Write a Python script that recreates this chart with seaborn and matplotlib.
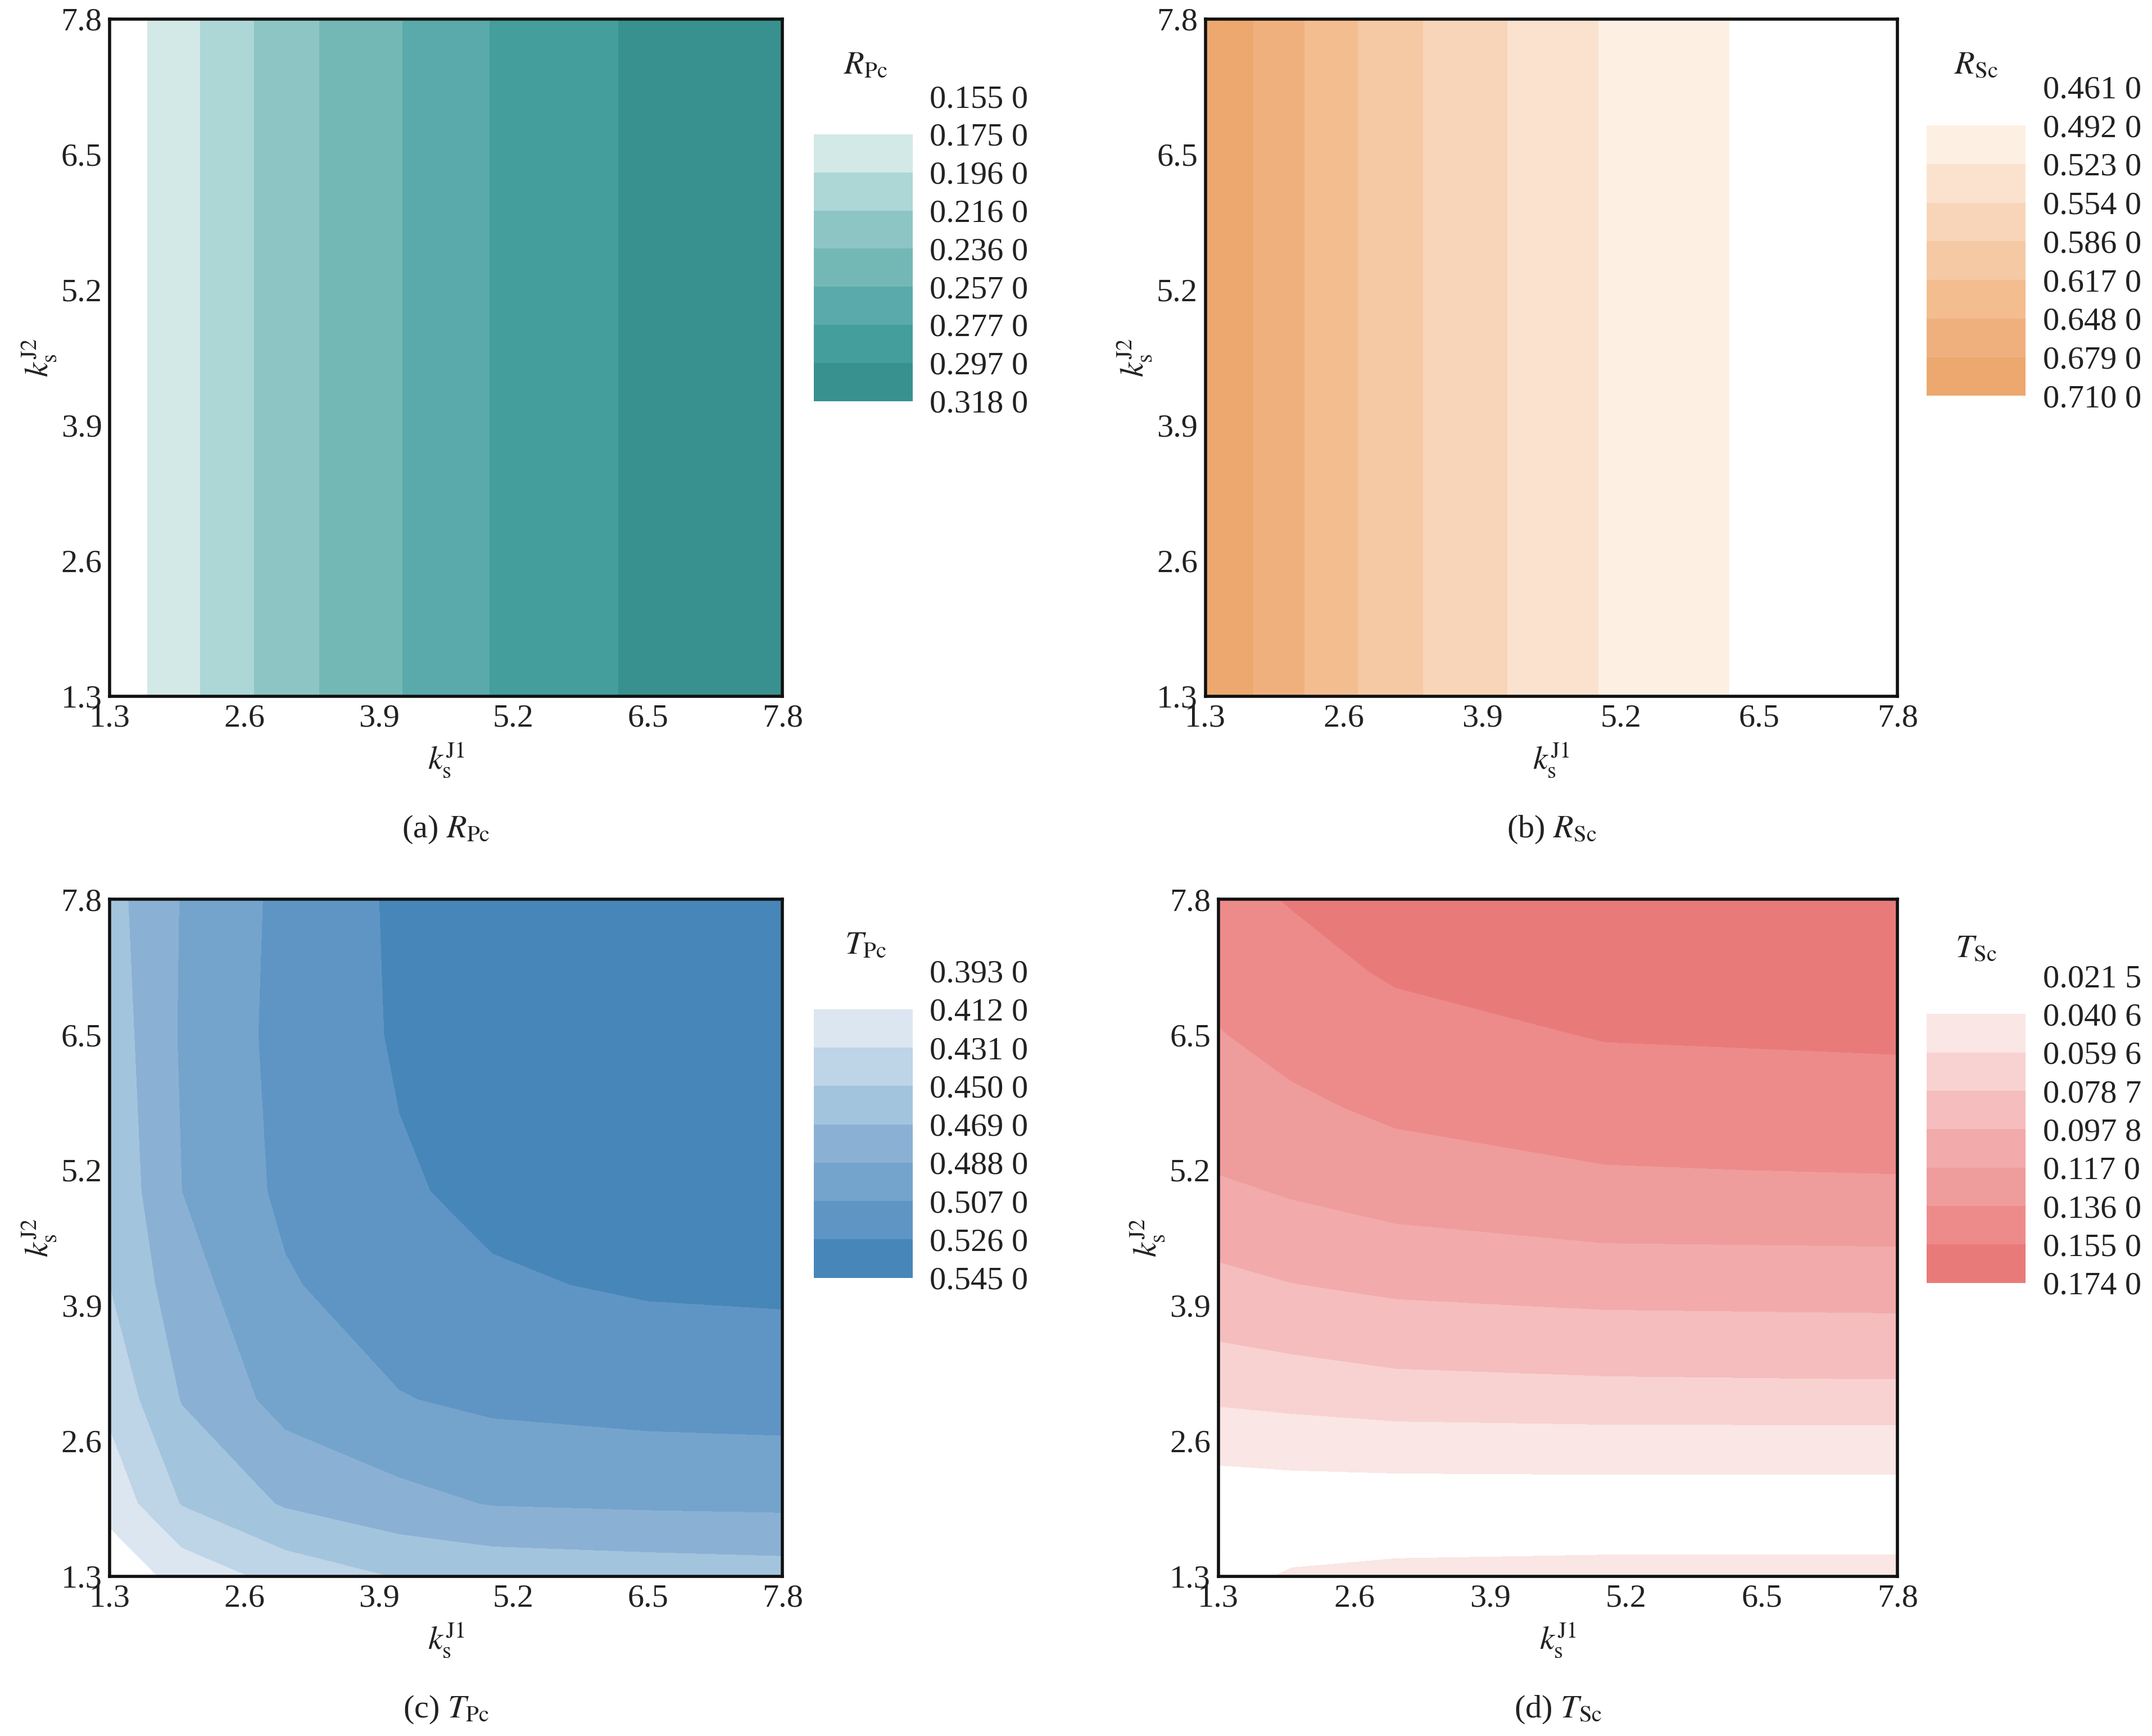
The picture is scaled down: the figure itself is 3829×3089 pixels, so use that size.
import numpy as np
import matplotlib
matplotlib.use("Agg")
import matplotlib.pyplot as plt
import seaborn as sns

sns.set_theme(style="white")
plt.rcParams['font.family'] = ['Liberation Serif', 'DejaVu Serif']
plt.rcParams['mathtext.fontset'] = 'stix'

ticks = [1.3, 2.6, 3.9, 5.2, 6.5, 7.8]

# (a) R_Pc depends on k_s^J1 only
a_x = [1.3, 1.95, 2.6, 3.25, 3.9, 4.55, 5.2, 5.85, 6.5, 7.15, 7.8]
a_v = [0.160, 0.187, 0.213, 0.234, 0.251, 0.268, 0.282, 0.292, 0.301, 0.310, 0.3175]
a_levels = [0.155, 0.175, 0.196, 0.216, 0.236, 0.257, 0.277, 0.297, 0.318]
a_colors = ['#ffffff', '#d3e9e7', '#add6d6', '#8dc5c5', '#74b8b5', '#5aaaab', '#449e9b', '#38918e']

# (b) R_Sc
b_x = a_x
b_v = [0.708, 0.666, 0.624, 0.590, 0.563, 0.538, 0.516, 0.500, 0.486, 0.474, 0.462]
b_levels = [0.461, 0.492, 0.523, 0.554, 0.586, 0.617, 0.648, 0.679, 0.710]
b_colors = ['#ffffff', '#fdf0e3', '#fbe2cf', '#f8d5b9', '#f5c9a4', '#f3bd90', '#f0b07e', '#eca86e']

# (c) T_Pc on grid
c_x = [1.3, 2.0, 3.0, 4.1, 5.0, 6.5, 7.8]
c_y = [1.3, 2.0, 3.0, 4.1, 5.0, 6.5, 7.8]
c_v = [
    [0.400, 0.418, 0.438, 0.451, 0.455, 0.458, 0.460],
    [0.418, 0.451, 0.471, 0.482, 0.489, 0.491, 0.492],
    [0.436, 0.470, 0.495, 0.506, 0.511, 0.514, 0.515],
    [0.450, 0.480, 0.505, 0.518, 0.524, 0.528, 0.529],
    [0.454, 0.488, 0.511, 0.524, 0.530, 0.535, 0.535],
    [0.458, 0.490, 0.513, 0.528, 0.534, 0.538, 0.540],
    [0.462, 0.489, 0.512, 0.529, 0.535, 0.540, 0.544],
]
c_levels = [0.393, 0.412, 0.431, 0.450, 0.469, 0.488, 0.507, 0.526, 0.545]
c_colors = ['#ffffff', '#dbe6f1', '#bed4e7', '#a3c4dd', '#8ab1d4', '#74a4cc', '#5f95c4', '#4786b9']

# (d) T_Sc on grid (rows = k_s^J2, cols = k_s^J1)
d_x = [1.3, 2.0, 3.0, 5.0, 7.8]
d_y = [1.3, 2.0, 2.6, 3.2, 3.9, 4.5, 5.2, 5.8, 6.5, 7.1, 7.8]
d_col13 = [0.036, 0.029, 0.048, 0.069, 0.088, 0.102, 0.118, 0.127, 0.135, 0.142, 0.150]
d_col20 = [0.042, 0.030, 0.050, 0.072, 0.092, 0.108, 0.123, 0.132, 0.143, 0.149, 0.156]
d_col30 = [0.044, 0.030, 0.052, 0.076, 0.096, 0.113, 0.128, 0.140, 0.149, 0.157, 0.163]
d_col50 = [0.045, 0.030, 0.053, 0.078, 0.099, 0.117, 0.135, 0.146, 0.156, 0.164, 0.171]
d_col78 = [0.045, 0.030, 0.053, 0.079, 0.100, 0.118, 0.137, 0.147, 0.158, 0.165, 0.172]
d_levels = [0.0215, 0.0406, 0.0596, 0.0787, 0.0978, 0.117, 0.136, 0.155, 0.174]
d_labels = ['0.021 5', '0.040 6', '0.059 6', '0.078 7', '0.097 8', '0.117 0', '0.136 0', '0.155 0', '0.174 0']
d_colors = ['#ffffff', '#fae6e4', '#f8d2d1', '#f5bdbd', '#f2aaab', '#ef9c9c', '#ed8b8b', '#e87b7a']


def fmt4(v):
    s = f"{v:.4f}"
    return s[:-1] + " " + s[-1]


W, H = 38.30, 30.89
fig = plt.figure(figsize=(W, H), dpi=100)
FS = 42

panels = [
    dict(rect=[0.051, 0.599, 0.3125, 0.390], cb=[0.378, 0.769, 0.046, 0.1756], tt=(0.402, 0.962),
         name=r'$R_{\mathrm{Pc}}$', cap=r'(a) $R_{\mathrm{Pc}}$'),
    dict(rect=[0.560, 0.599, 0.3215, 0.390], cb=[0.895, 0.772, 0.046, 0.178], tt=(0.918, 0.962),
         name=r'$R_{\mathrm{Sc}}$', cap=r'(b) $R_{\mathrm{Sc}}$'),
    dict(rect=[0.051, 0.092, 0.3125, 0.390], cb=[0.378, 0.264, 0.046, 0.1767], tt=(0.402, 0.455),
         name=r'$T_{\mathrm{Pc}}$', cap=r'(c) $T_{\mathrm{Pc}}$'),
    dict(rect=[0.566, 0.092, 0.3155, 0.390], cb=[0.895, 0.261, 0.046, 0.177], tt=(0.918, 0.453),
         name=r'$T_{\mathrm{Sc}}$', cap=r'(d) $T_{\mathrm{Sc}}$'),
]

data = []
data.append((np.array(a_x), np.array([1.3, 7.8]), np.vstack([a_v, a_v]), a_levels, a_colors,
             [fmt4(v) for v in a_levels]))
data.append((np.array(b_x), np.array([1.3, 7.8]), np.vstack([b_v, b_v]), b_levels, b_colors,
             [fmt4(v) for v in b_levels]))
data.append((np.array(c_x), np.array(c_y), np.array(c_v), c_levels, c_colors,
             [fmt4(v) for v in c_levels]))
data.append((np.array(d_x), np.array(d_y),
             np.column_stack([d_col13, d_col20, d_col30, d_col50, d_col78]), d_levels, d_colors, d_labels))

for p, (X, Y, Z, lev, cols, labs) in zip(panels, data):
    ax = fig.add_axes(p['rect'])
    cs = ax.contourf(X, Y, Z, levels=lev, colors=cols)
    ax.set_xlim(1.3, 7.8)
    ax.set_ylim(1.3, 7.8)
    ax.set_xticks(ticks)
    ax.set_yticks(ticks)
    ax.set_xticklabels([f"{t}" for t in ticks])
    ax.set_yticklabels([f"{t}" for t in ticks])
    ax.tick_params(direction='in', length=22, width=3, labelsize=FS, colors='#222222',
                   bottom=True, left=True, top=False, right=False, pad=10)
    for s in ax.spines.values():
        s.set_visible(True)
        s.set_linewidth(4)
        s.set_color('#111111')
    ax.set_xlabel(r'$k_{\mathrm{s}}^{\mathrm{J1}}$', fontsize=FS, labelpad=10, color='#222222')
    ax.set_ylabel(r'$k_{\mathrm{s}}^{\mathrm{J2}}$', fontsize=FS, labelpad=4, color='#222222')
    r = p['rect']
    fig.text(r[0] + r[2] / 2, r[1] - 0.077, p['cap'], fontsize=FS, ha='center', va='center', color='#222222')

    cax = fig.add_axes(p['cb'])
    cb = fig.colorbar(cs, cax=cax, ticks=lev)
    cb.outline.set_visible(False)
    cax.invert_yaxis()
    cax.set_yticklabels(labs)
    cax.tick_params(length=0, labelsize=FS, pad=22, colors='#222222')
    fig.text(p['tt'][0], p['tt'][1], p['name'], fontsize=FS, ha='center', va='center', color='#222222')

fig.savefig('out.png', dpi=100, facecolor='white')
